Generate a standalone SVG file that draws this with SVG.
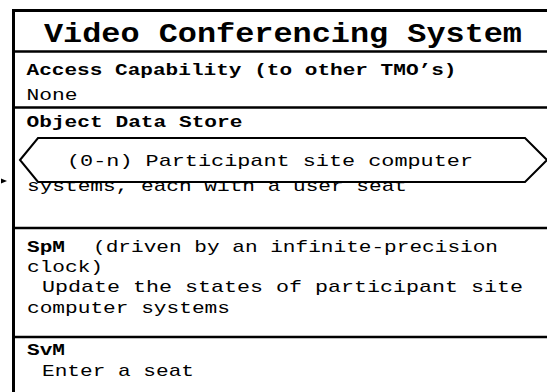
<svg xmlns="http://www.w3.org/2000/svg" width="547" height="392" viewBox="0 0 547 392">
  <style>
    .t { font-family: "Liberation Mono", "Courier New", monospace; font-size: 17px; fill: #000; }
    .b { font-weight: bold; }
    .title { font-family: "Liberation Mono", "Courier New", monospace; font-size: 27px; font-weight: bold; fill: #000; }
    .rule { stroke: #000; stroke-width: 2.5; fill: none; }
    .frame { stroke: #000; stroke-width: 3; fill: none; }
    .store { stroke: #000; stroke-width: 2; fill: #fff; stroke-linejoin: miter; }
  </style>
  <rect width="547" height="392" fill="#fff"/>

  <g id="tmo-video-conferencing">
    <!-- outer frame: top and left edges -->
    <path class="frame" d="M13.5 392 V10.5 H547"/>
    <!-- section dividers -->
    <line class="rule" x1="13" y1="51.5" x2="547" y2="51.5"/>
    <line class="rule" x1="13" y1="107.5" x2="547" y2="107.5"/>
    <line class="rule" x1="13" y1="228" x2="547" y2="228"/>
    <line class="rule" x1="13" y1="337" x2="547" y2="337"/>

    <text class="title" x="44" y="42" textLength="478" lengthAdjust="spacingAndGlyphs">Video Conferencing System</text>

    <g id="access-capability">
      <text class="t b" x="26.5" y="75" textLength="430" lengthAdjust="spacingAndGlyphs">Access Capability (to other TMO’s)</text>
      <text class="t" x="26.5" y="100" textLength="51" lengthAdjust="spacingAndGlyphs">None</text>
    </g>

    <g id="object-data-store">
      <text class="t b" x="26.5" y="127" textLength="216" lengthAdjust="spacingAndGlyphs">Object Data Store</text>
      <text class="t" x="27" y="191" textLength="380" lengthAdjust="spacingAndGlyphs">systems, each with a user seat</text>
      <polygon class="store" points="20,160 38,138 525,138 547,160 525,182 38,182"/>
      <text class="t" x="67" y="166" textLength="406" lengthAdjust="spacingAndGlyphs">(0-n) Participant site computer</text>
    </g>

    <g id="spm">
      <text class="t b" x="27" y="251.5" textLength="38" lengthAdjust="spacingAndGlyphs">SpM</text>
      <text class="t" x="93" y="251.5" textLength="405" lengthAdjust="spacingAndGlyphs">(driven by an infinite-precision</text>
      <text class="t" x="27" y="272" textLength="76" lengthAdjust="spacingAndGlyphs">clock)</text>
      <text class="t" x="42" y="292" textLength="481" lengthAdjust="spacingAndGlyphs">Update the states of participant site</text>
      <text class="t" x="27" y="312.5" textLength="203" lengthAdjust="spacingAndGlyphs">computer systems</text>
    </g>

    <g id="svm">
      <text class="t b" x="27" y="355" textLength="38" lengthAdjust="spacingAndGlyphs">SvM</text>
      <text class="t" x="42" y="376" textLength="152" lengthAdjust="spacingAndGlyphs">Enter a seat</text>
    </g>
  </g>

  <g id="connectors">
    <polygon points="1,178.5 7,181 1,183.5" fill="#000"/>
  </g>
</svg>
